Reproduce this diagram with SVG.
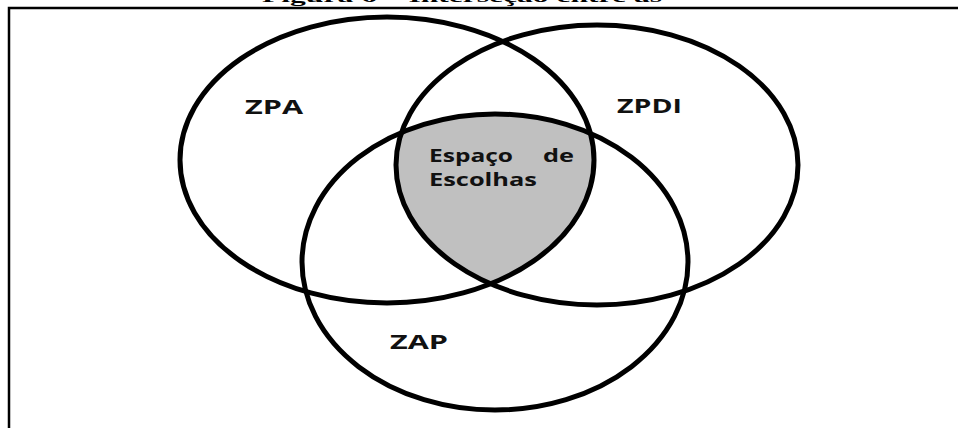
<svg xmlns="http://www.w3.org/2000/svg" width="958" height="428" viewBox="0 0 958 428">
<style>
.ring{fill:none;stroke:#000;stroke-width:5}
.lbl{font-family:"Open Sans","DejaVu Sans",sans-serif;font-weight:bold;font-size:19px;fill:#111}
.sm{font-size:17px}
.ttl{font-family:"Liberation Serif","Times New Roman",serif;font-weight:bold;font-size:17px;fill:#000}
</style>
<defs>
<clipPath id="cA"><ellipse cx="387" cy="160" rx="207" ry="143"/></clipPath>
<clipPath id="cB"><ellipse cx="597" cy="165" rx="201" ry="140"/></clipPath>
</defs>
<rect width="958" height="428" fill="#fff"/>
<text class="ttl" x="262" y="2" textLength="400" lengthAdjust="spacingAndGlyphs">Figura 6 – Interseção entre as</text>
<path d="M9,428 V8 H958" fill="none" stroke="#000" stroke-width="2.5"/>
<g id="shaded">
<g clip-path="url(#cA)"><g clip-path="url(#cB)"><ellipse cx="495" cy="262" rx="193" ry="148" fill="#c0c0c0"/></g></g>
</g>
<g id="ZPA">
<ellipse class="ring" cx="387" cy="160" rx="207" ry="143"/>
<text class="lbl" x="245" y="114" textLength="58" lengthAdjust="spacingAndGlyphs">ZPA</text>
</g>
<g id="ZPDI">
<ellipse class="ring" cx="597" cy="165" rx="201" ry="140"/>
<text class="lbl" x="617" y="113" textLength="65" lengthAdjust="spacingAndGlyphs">ZPDI</text>
</g>
<g id="ZAP">
<ellipse class="ring" cx="495" cy="262" rx="193" ry="148"/>
<text class="lbl" x="390" y="349" textLength="58" lengthAdjust="spacingAndGlyphs">ZAP</text>
</g>
<g id="espaco">
<text class="lbl sm" x="429" y="162" textLength="84" lengthAdjust="spacingAndGlyphs">Espaço</text>
<text class="lbl sm" x="543" y="162" textLength="31" lengthAdjust="spacingAndGlyphs">de</text>
<text class="lbl sm" x="429" y="186" textLength="108" lengthAdjust="spacingAndGlyphs">Escolhas</text>
</g>
<g id="connectors"/>
</svg>
